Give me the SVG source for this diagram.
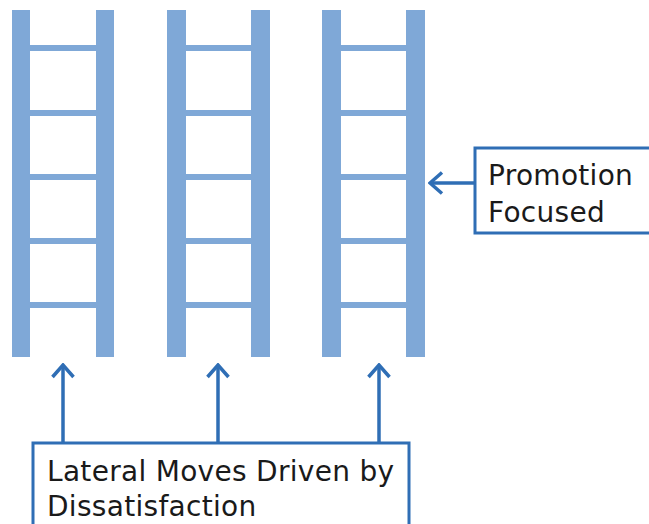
<svg xmlns="http://www.w3.org/2000/svg" width="649" height="524" viewBox="0 0 649 524">
<defs>
<style>
.rail{fill:#7FA8D7}
.rung{fill:#7FA8D7}
.conn{stroke:#2F6EB5;stroke-width:3.5;fill:none}
.box{stroke:#2F6EB5;stroke-width:3;fill:#fff}
.lbl{font-family:"DejaVu Sans","Liberation Sans",sans-serif;font-size:28px;letter-spacing:0.3px;fill:#1a1a1a}
</style>
<marker id="ah" viewBox="0 0 16 24" refX="14" refY="12" markerWidth="16" markerHeight="24" markerUnits="userSpaceOnUse" orient="auto">
<path d="M2,1.5 L14,12 L2,22.5" fill="none" stroke="#2F6EB5" stroke-width="3.5"/>
</marker>
</defs>
<rect width="649" height="524" fill="#fff"/>
<g id="ladder1">
<rect class="rail" x="12" y="10" width="18" height="347"/>
<rect class="rail" x="96" y="10" width="18" height="347"/>
<rect class="rung" x="30" y="45" width="66" height="6"/>
<rect class="rung" x="30" y="110" width="66" height="6"/>
<rect class="rung" x="30" y="174" width="66" height="6"/>
<rect class="rung" x="30" y="238" width="66" height="6"/>
<rect class="rung" x="30" y="302" width="66" height="6"/>
</g>
<g id="ladder2">
<rect class="rail" x="167" y="10" width="19" height="347"/>
<rect class="rail" x="251" y="10" width="19" height="347"/>
<rect class="rung" x="186" y="45" width="65" height="6"/>
<rect class="rung" x="186" y="110" width="65" height="6"/>
<rect class="rung" x="186" y="174" width="65" height="6"/>
<rect class="rung" x="186" y="238" width="65" height="6"/>
<rect class="rung" x="186" y="302" width="65" height="6"/>
</g>
<g id="ladder3">
<rect class="rail" x="322" y="10" width="19" height="347"/>
<rect class="rail" x="406" y="10" width="19" height="347"/>
<rect class="rung" x="341" y="45" width="65" height="6"/>
<rect class="rung" x="341" y="110" width="65" height="6"/>
<rect class="rung" x="341" y="174" width="65" height="6"/>
<rect class="rung" x="341" y="238" width="65" height="6"/>
<rect class="rung" x="341" y="302" width="65" height="6"/>
</g>
<g id="connectors">
<line class="conn" x1="63" y1="443" x2="63" y2="365" marker-end="url(#ah)"/>
<line class="conn" x1="218" y1="443" x2="218" y2="365" marker-end="url(#ah)"/>
<line class="conn" x1="379" y1="443" x2="379" y2="365" marker-end="url(#ah)"/>
<line class="conn" x1="475" y1="183" x2="430" y2="183" marker-end="url(#ah)"/>
</g>
<g id="promotion">
<rect class="box" x="475" y="148" width="180" height="85"/>
<text class="lbl" x="488" y="185">Promotion</text>
<text class="lbl" x="488" y="222">Focused</text>
</g>
<g id="lateral">
<rect class="box" x="33" y="443" width="376" height="90"/>
<text class="lbl" x="47" y="481">Lateral Moves Driven by</text>
<text class="lbl" x="47" y="516">Dissatisfaction</text>
</g>
</svg>
